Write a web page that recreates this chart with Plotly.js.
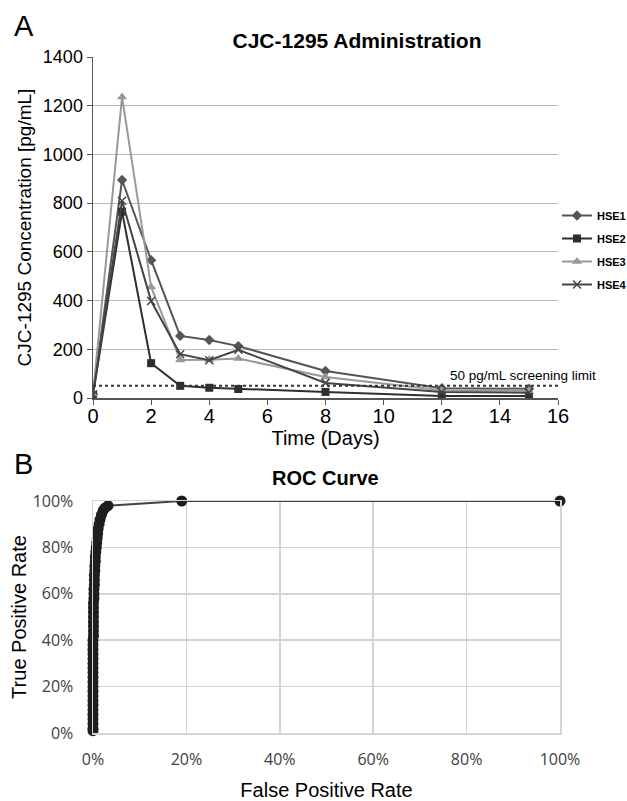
<!DOCTYPE html>
<html>
<head>
<meta charset="utf-8">
<script src="https://cdn.plot.ly/plotly-3.0.1.min.js"></script>
<style>html,body{margin:0;padding:0;background:#fff;}#chart{width:627px;height:801px;}</style>
</head>
<body>
<div id="chart"></div>
<script>
// Panel A data
const days = [0, 1, 2, 3, 4, 5, 8, 12, 15];
const hse1 = [15, 895, 566, 255, 238, 213, 111, 40, 38];
const hse2 = [12, 765, 143, 50, 42, 37, 25, 8, 8];
const hse3 = [15, 1236, 456, 156, 157, 162, 86, 32, 30];
const hse4 = [15, 810, 398, 180, 155, 198, 62, 25, 22];
const limitX = [0, 16];
const limitY = [50, 50];
const xTicksA = [0, 2, 4, 6, 8, 10, 12, 14, 16];
const yTicksA = [0, 200, 400, 600, 800, 1000, 1200, 1400];

// Panel B data (ROC, percent)
const fpr = [0,0,0,0,0,0,0,0,0,0,0,0,0,0,0,0,0,0,0,0,0,0.1,0.1,0.1,0.1,0.1,0.1,0.1,0.1,0.2,0.2,0.2,0.3,0.3,0.3,0.4,0.4,0.5,0.5,0.6,0.7,0.8,0.9,1.0,1.1,1.3,1.5,1.8,2.2,2.6,3.2,19,100];
const tpr = [1,2,4,6,8,10,12,14,16,18,20,22,24,26,28,30,32,34,36,38,40,42,44,46,48,50,52,54,56,58,60,62,64,66,68,70,72,74,76,78,80,82,84,86,88,90,92,94,96,97,98,100,100];
const pctTicks = [0, 20, 40, 60, 80, 100];

const ARIAL = 'Liberation Sans, Arial, sans-serif';
const CAL = 'Open Sans, Liberation Sans, sans-serif';

const traces = [
  {x: days, y: hse1, name: '<b>HSE1</b>', legendgroup: 'g1', mode: 'lines+markers',
   line: {color: '#555555', width: 2}, marker: {symbol: 'diamond', size: 8, color: '#555555'}, xaxis: 'x', yaxis: 'y'},
  {x: days, y: hse2, name: '<b>HSE2</b>', legendgroup: 'g2', mode: 'lines+markers',
   line: {color: '#2e2e2e', width: 2}, marker: {symbol: 'square', size: 8, color: '#2e2e2e'}, xaxis: 'x', yaxis: 'y'},
  {x: days, y: hse3, name: '<b>HSE3</b>', legendgroup: 'g3', mode: 'lines+markers',
   line: {color: '#999999', width: 2}, marker: {symbol: 'triangle-up', size: 9, color: '#999999'}, xaxis: 'x', yaxis: 'y'},
  {x: days, y: hse4, name: '<b>HSE4</b>', legendgroup: 'g4', mode: 'lines+markers',
   line: {color: '#444444', width: 2}, marker: {symbol: 'x-thin-open', size: 8, color: '#444444', line: {color: '#444444', width: 1.5}}, xaxis: 'x', yaxis: 'y'},
  {x: limitX, y: limitY, mode: 'lines', showlegend: false, hoverinfo: 'skip',
   line: {color: '#333333', width: 2, dash: 'dot'}, xaxis: 'x', yaxis: 'y'},
  {x: fpr, y: tpr, mode: 'lines+markers', showlegend: false, cliponaxis: false,
   line: {color: '#444444', width: 2}, marker: {symbol: 'circle', size: 11, color: '#1e1e1e'}, xaxis: 'x2', yaxis: 'y2'}
];

const layout = {
  width: 627, height: 801,
  margin: {l: 0, r: 0, t: 0, b: 0, autoexpand: false},
  paper_bgcolor: '#ffffff', plot_bgcolor: '#ffffff',
  font: {family: ARIAL, color: '#000000'},
  title: {text: '<b>CJC-1295 Administration</b>', x: 357/627, y: 1 - 41/801, xanchor: 'center', yanchor: 'middle',
          xref: 'paper', yref: 'paper', font: {family: ARIAL, size: 21, color: '#000'}},
  showlegend: true,
  legend: {x: 557/627, y: 1 - 201/801, xanchor: 'left', yanchor: 'top', itemwidth: 30, tracegroupgap: 4,
           font: {family: ARIAL, size: 11, color: '#000'}, bgcolor: 'rgba(0,0,0,0)'},
  xaxis: {domain: [93/627, 558/627], anchor: 'y', range: [0, 16], tickvals: xTicksA, ticktext: xTicksA.map(String),
          showgrid: false, zeroline: false, showline: true, linecolor: '#555555', linewidth: 1.5,
          ticks: 'outside', ticklen: 5, tickcolor: '#555555', tickfont: {size: 20, family: ARIAL}, ticklabelstandoff: -6,
          title: {text: 'Time (Days)', font: {size: 20, family: ARIAL}, standoff: 0}},
  yaxis: {domain: [1 - 398/801, 1 - 57/801], anchor: 'x', range: [0, 1400], tickvals: yTicksA, ticktext: yTicksA.map(String),
          showgrid: true, gridcolor: '#b8b8b8', gridwidth: 1.2, zeroline: false, showline: true, linecolor: '#555555', linewidth: 1.5,
          ticks: 'outside', ticklen: 5, tickcolor: '#555555', tickfont: {size: 18, family: ARIAL},
          title: {text: 'CJC-1295 Concentration [pg/mL]', font: {size: 19, family: ARIAL}, standoff: 6}},
  xaxis2: {domain: [93/627, 560/627], anchor: 'y2', range: [0, 100], tickvals: pctTicks, ticktext: pctTicks.map(v => v + '%'),
           showgrid: true, gridcolor: '#d4d4d4', gridwidth: 1.5, zeroline: false, showline: true, mirror: true, linecolor: '#d4d4d4', linewidth: 1.5,
           ticks: '', tickfont: {size: 16, family: CAL, color: '#404040'}, ticklabelstandoff: 11,
           title: {text: 'False Positive Rate', font: {size: 20, family: ARIAL}, standoff: 14}},
  yaxis2: {domain: [1 - 733/801, 1 - 501/801], anchor: 'x2', range: [0, 100], tickvals: pctTicks, ticktext: pctTicks.map(v => v + '%'),
           showgrid: true, gridcolor: '#d4d4d4', gridwidth: 1.5, zeroline: false, showline: true, mirror: true, linecolor: '#d4d4d4', linewidth: 1.5,
           ticks: '', tickfont: {size: 16, family: CAL, color: '#404040'}, ticklabelstandoff: 15,
           title: {text: 'True Positive Rate', font: {size: 20, family: ARIAL}, standoff: 0}},
  annotations: [
    {text: 'A', x: 12/627, y: 1 - 26/801, xref: 'paper', yref: 'paper', xanchor: 'left', yanchor: 'middle', showarrow: false,
     font: {size: 29, family: ARIAL, color: '#000'}},
    {text: 'B', x: 12/627, y: 1 - 464/801, xref: 'paper', yref: 'paper', xanchor: 'left', yanchor: 'middle', showarrow: false,
     font: {size: 29, family: ARIAL, color: '#000'}},
    {text: '<b>ROC Curve</b>', x: 325/627, y: 1 - 478/801, xref: 'paper', yref: 'paper', xanchor: 'center', yanchor: 'middle', showarrow: false,
     font: {size: 20, family: ARIAL, color: '#000'}},
    {text: '50 pg/mL screening limit', x: 12.2, y: 50, xref: 'x', yref: 'y', xanchor: 'left', yanchor: 'bottom', yshift: 1, showarrow: false,
     font: {size: 13.5, family: ARIAL, color: '#000'}}
  ]
};

Plotly.newPlot('chart', traces, layout, {displayModeBar: false, staticPlot: true});
</script>
</body>
</html>
